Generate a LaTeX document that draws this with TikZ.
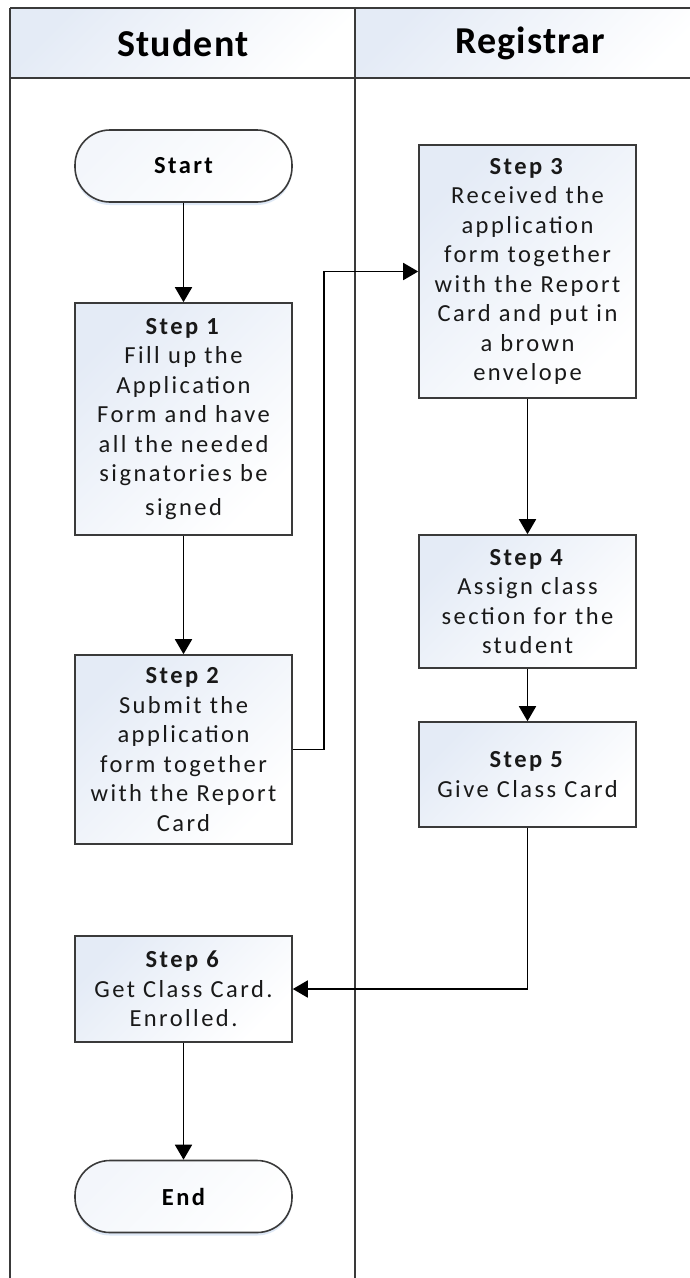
\documentclass[tikz,border=0pt]{standalone}
\usepackage{fontspec}
\setmainfont{Carlito}
\usetikzlibrary{arrows.meta,shadows}

\definecolor{boxblue}{HTML}{E4EBF6}
\definecolor{edgegray}{HTML}{3A3A3A}
\definecolor{shadowblue}{HTML}{C9DAF0}

\newcommand\bodyfont{\fontsize{24.5}{29.5}\selectfont\addfontfeatures{LetterSpace=10}}
\newcommand\headfont{\fontsize{38}{44}\selectfont\bfseries\addfontfeatures{LetterSpace=3}}

\tikzset{
  lane/.style={draw=edgegray, line width=1.7pt},
  headcell/.style={shading=axis, top color=boxblue, bottom color=white, shading angle=45},
  headlabel/.style={font=\headfont, text=black, inner sep=0pt},
  stepbox/.style={rectangle, draw=edgegray, line width=1.6pt, minimum width=217pt,
    inner sep=0pt, text width=211pt, align=center, font=\bodyfont, text=black!90,
    shading=axis, top color=boxblue, bottom color=white, shading angle=45},
  terminal/.style={rectangle, rounded corners=35pt, draw=edgegray, line width=1.6pt,
    minimum width=217pt, minimum height=72pt, inner sep=0pt, align=center,
    font=\bodyfont\bfseries, top color=boxblue!45, bottom color=white, shading angle=45,
    drop shadow={shadow xshift=0pt, shadow yshift=-3pt, fill=shadowblue, opacity=0.6}},
  arr/.style={draw=black, line width=1.8pt, -{Triangle[length=15pt,width=17pt]}},
}

\begin{document}
\begin{tikzpicture}[x=1pt, y=-1pt]
  \useasboundingbox (0,0) rectangle (689,1278);
  \fill[white] (0,0) rectangle (689,1278);

  % swimlane header cells
  \shade[headcell] (10,8) rectangle (355,78);
  \shade[headcell] (355,8) rectangle (705,78);

  % swimlane frame
  \draw[lane] (10,8) -- (705,8);
  \draw[lane] (10,78) -- (705,78);
  \draw[lane] (10,8) -- (10,1290);
  \draw[lane] (355,8) -- (355,1290);

  \node[headlabel] (hstudent) at (183,43) {Student};
  \node[headlabel] (hregistrar) at (530,43) {Registrar};

  % student lane
  \node[terminal] (start) at (183.5,166) {Start};
  \node[stepbox, minimum height=232pt] (s1) at (183.5,419)
    {\textbf{Step 1}\\Fill up the\\Application\\Form and have\\all the needed\\signatories be\\[4pt]signed};
  \node[stepbox, minimum height=189pt] (s2) at (183.5,749.5)
    {\textbf{Step 2}\\Submit the\\application\\form together\\with the Report\\Card};
  \node[stepbox, minimum height=106pt] (s6) at (183.5,989)
    {\textbf{Step 6}\\Get Class Card.\\Enrolled.};
  \node[terminal] (finish) at (183.5,1196.5) {End};

  % registrar lane
  \node[stepbox, minimum height=253pt] (s3) at (527.5,271.5)
    {\textbf{Step 3}\\Received the\\application\\form together\\with the Report\\Card and put in\\a brown\\envelope};
  \node[stepbox, minimum height=133pt] (s4) at (527.5,601.5)
    {\textbf{Step 4}\\Assign class\\section for the\\student};
  \node[stepbox, minimum height=105pt] (s5) at (527.5,774.5)
    {\textbf{Step 5}\\Give Class Card};

  % flow
  \draw[arr] (start) -- (s1);
  \draw[arr] (s1) -- (s2);
  \draw[arr] (s2.east) -- ++(31,0) |- (s3.west);
  \draw[arr] (s3) -- (s4);
  \draw[arr] (s4) -- (s5);
  \draw[arr] (s5.south) |- (s6.east);
  \draw[arr] (s6) -- (finish);
\end{tikzpicture}
\end{document}
